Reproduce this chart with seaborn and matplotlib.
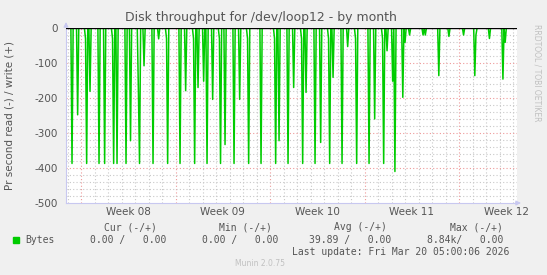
import numpy as np
import pandas as pd
import matplotlib
matplotlib.use("Agg")
import matplotlib.pyplot as plt
import seaborn as sns

# ---- data (hours since Mon 16 Feb 2026 00:00, 2-hour samples) ----
spike_hours = [-16, -6, 8, 10, 16, 32, 42, 56, 58, 64, 80, 88, 102, 104, 112, 128, 138,
               152, 154, 176, 186, 200, 202, 208, 218, 224, 234, 246, 248, 256, 272, 282,
               296, 298, 320, 344, 346, 352, 368, 378, 392, 394, 400, 416, 426, 440, 442,
               448, 464, 474, 488, 490, 512, 522, 536, 538, 544, 554, 558, 572, 576, 584,
               608, 612, 636, 654, 680, 700, 702, 726, 750, 754]
spike_values = [-387, -248, -30, -387, -181, -387, -387, -30, -387, -387, -387, -322, -179, -387,
                -108, -387, -31, -30, -387, -387, -179, -30, -387, -170, -152, -387, -204, -30,
                -387, -333, -387, -204, -30, -387, -387, -30, -387, -322, -387, -170, -30, -387,
                -184, -387, -327, -30, -387, -141, -387, -53, -30, -387, -387, -260, -30, -387,
                -65, -152, -410, -198, -41, -20, -20, -20, -136, -24, -20, -136, -20, -30, -146, -41]
start_hour, end_hour = -26, 774
week_starts = [0, 168, 336, 504, 672]
week_labels = ["Week 08", "Week 09", "Week 10", "Week 11", "Week 12"]
y_ticks = [0, -100, -200, -300, -400, -500]

hours = np.arange(start_hour, end_hour + 1, 2)
vals = np.zeros(len(hours), dtype=float)
for h, v in zip(spike_hours, spike_values):
    vals[np.searchsorted(hours, h)] = v
df = pd.DataFrame({"hour": hours, "bytes": vals})

# ---- figure ----
sns.set_style("white")
plt.rcParams['font.family'] = ['DejaVu Sans']
W, H = 547, 275
fig = plt.figure(figsize=(W / 100, H / 100), dpi=100, facecolor="#F0F0F0")
L, R, T, B = 66, 517, 28, 203
ax = fig.add_axes([L / W, 1 - B / H, (R - L) / W, (B - T) / H])
ax.set_facecolor("white")

xmin, xmax = -26.7, 775
ax.set_xlim(xmin, xmax)
ax.set_ylim(-500, 0)

# grid
for d in range(-1, 33):
    hh = d * 24
    if xmin < hh < xmax:
        if hh in week_starts:
            ax.axvline(hh, color="#EE9999", lw=0.8, ls=(0, (1, 2)), zorder=1)
        else:
            ax.axvline(hh, color="#C8C8C8", lw=0.8, ls=(0, (1, 2)), zorder=1)
for yv in range(-480, 0, 20):
    if yv % 100 == 0:
        ax.axhline(yv, color="#EE9999", lw=0.8, ls=(0, (1, 2)), zorder=1)
    else:
        ax.axhline(yv, color="#C8C8C8", lw=0.8, ls=(0, (1, 2)), zorder=1)

sns.lineplot(data=df, x="hour", y="bytes", ax=ax, color="#00CC00", lw=1.1, zorder=3)
ax.axhline(0, color="black", lw=1.0, zorder=4)

ax.set_xticks([w + 84 for w in week_starts])
ax.set_xticklabels(week_labels)
ax.set_yticks(y_ticks)
ax.set_yticklabels([str(v) for v in y_ticks])
ax.tick_params(axis="both", length=0, labelsize=7.5, colors="#555555")
ax.tick_params(axis="x", pad=3)
ax.tick_params(axis="y", pad=6)
ax.set_xlabel("")
ax.set_ylabel("")
for s in ["top", "right"]:
    ax.spines[s].set_visible(False)
for s in ["left", "bottom"]:
    ax.spines[s].set_color("#C8C8F0")
    ax.spines[s].set_linewidth(0.8)

# axis arrows
ax.annotate("", xy=(0, 1.05), xytext=(0, 0.99), xycoords="axes fraction",
            arrowprops=dict(arrowstyle="-|>", color="#C8C8F0", lw=0.8, mutation_scale=7),
            annotation_clip=False)
ax.annotate("", xy=(1.015, 0), xytext=(0.99, 0), xycoords="axes fraction",
            arrowprops=dict(arrowstyle="-|>", color="#C8C8F0", lw=0.8, mutation_scale=7),
            annotation_clip=False)

# texts
fig.text(0.5 * (130 + 391) / W, 1 - 17 / H, "Disk throughput for /dev/loop12 - by month",
         ha="center", va="center", fontsize=9, color="#555555")
fig.text(10 / W, 1 - 115 / H, "Pr second read (-) / write (+)", rotation=90,
         ha="center", va="center", fontsize=7.5, color="#555555")
fig.text(537 / W, 1 - 24 / H, "RRDTOOL / TOBI OETIKER", rotation=270,
         ha="center", va="top", fontsize=5.5, color="#C0C0C0")

mono = dict(family="DejaVu Sans Mono", fontsize=7, color="#555555", va="center")
fig.text(157 / W, 1 - 227 / H, "Cur (-/+)", ha="right", **mono)
fig.text(272 / W, 1 - 227 / H, "Min (-/+)", ha="right", **mono)
fig.text(387 / W, 1 - 227 / H, "Avg (-/+)", ha="right", **mono)
fig.text(503 / W, 1 - 227 / H, "Max (-/+)", ha="right", **mono)
fig.patches.append(matplotlib.patches.Rectangle((13 / W, 1 - 243 / H), 6 / W, 6 / H,
                                                transform=fig.transFigure, color="#00CC00"))
fig.text(25 / W, 1 - 240 / H, "Bytes", ha="left", **mono)
fig.text(166 / W, 1 - 240 / H, "0.00 /   0.00", ha="right", **mono)
fig.text(278 / W, 1 - 240 / H, "0.00 /   0.00", ha="right", **mono)
fig.text(391 / W, 1 - 240 / H, "39.89 /   0.00", ha="right", **mono)
fig.text(503 / W, 1 - 240 / H, "8.84k/   0.00", ha="right", **mono)
fig.text(509 / W, 1 - 252 / H, "Last update: Fri Mar 20 05:00:06 2026", ha="right", **mono)
fig.text(260 / W, 1 - 264 / H, "Munin 2.0.75", ha="center", va="center",
         fontsize=5.5, color="#C0C0C0")

fig.savefig("out.png", dpi=100, facecolor=fig.get_facecolor())
